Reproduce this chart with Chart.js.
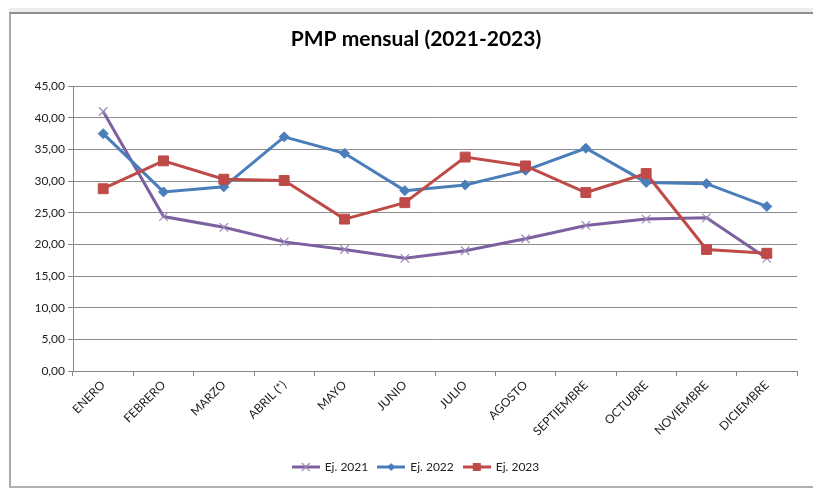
<!DOCTYPE html>
<html>
<head>
<meta charset="utf-8">
<script src="https://cdn.jsdelivr.net/npm/chart.js@4"></script>
<style>
  html, body { margin: 0; background: #fff; overflow: hidden; width: 813px; height: 489px; }
  #strip { position: absolute; left: 9px; top: 8px; width: 820px; height: 4px; background: #ececec; }
  #frame {
    position: absolute; left: 9px; top: 12px; width: 820px; height: 472px;
    border-left: 2px solid #a8a8a8; border-top: 2px solid #8f8f8f; border-bottom: 2px solid #b0b0b0;
  }
  canvas { display: block; }
</style>
</head>
<body>
<div id="strip"></div>
<div id="frame"><canvas id="pmpChart" width="802" height="472"></canvas></div>
<script>
// Months on the x axis
const meses = ['ENERO', 'FEBRERO', 'MARZO', 'ABRIL (*)', 'MAYO', 'JUNIO', 'JULIO',
  'AGOSTO', 'SEPTIEMBRE', 'OCTUBRE', 'NOVIEMBRE', 'DICIEMBRE'];

// PMP values per year (days)
const ej2021 = [41.0, 24.4, 22.7, 20.4, 19.2, 17.8, 19.0, 20.9, 23.0, 24.0, 24.2, 17.8];
const ej2022 = [37.5, 28.3, 29.1, 37.0, 34.4, 28.5, 29.4, 31.7, 35.2, 29.8, 29.6, 26.0];
const ej2023 = [28.8, 33.2, 30.3, 30.1, 24.0, 26.6, 33.8, 32.4, 28.2, 31.2, 19.2, 18.6];

const yTicks = { min: 0, max: 45, step: 5 };

const FONT = 'Lato, "Liberation Sans", sans-serif';
const purple = '#7d60a0';
const blue = '#4a7ebb';
const red = '#be4b48';

// legend swatch: short line with the series marker on it
function legendIcon(color, marker) {
  const c = document.createElement('canvas');
  c.width = 28; c.height = 12;
  const g = c.getContext('2d');
  g.strokeStyle = color;
  g.lineWidth = 3;
  g.beginPath(); g.moveTo(0, 6); g.lineTo(28, 6); g.stroke();
  g.fillStyle = color;
  if (marker === 'cross') {
    g.strokeStyle = '#9c88ba';
    g.lineWidth = 1.2;
    g.beginPath();
    g.moveTo(10, 2); g.lineTo(18, 10);
    g.moveTo(18, 2); g.lineTo(10, 10);
    g.stroke();
  } else if (marker === 'diamond') {
    g.beginPath();
    g.moveTo(14, 2); g.lineTo(18, 6); g.lineTo(14, 10); g.lineTo(10, 6);
    g.closePath(); g.fill();
  } else {
    g.fillRect(10, 2, 8, 8);
  }
  return c;
}

const ctx = document.getElementById('pmpChart').getContext('2d');

new Chart(ctx, {
  type: 'line',
  data: {
    labels: meses,
    datasets: [{
      label: 'Ej. 2021',
      data: ej2021,
      borderColor: purple,
      backgroundColor: purple,
      borderWidth: 3,
      pointStyle: 'crossRot',
      pointRadius: 6,
      pointBorderWidth: 1.2,
      pointBorderColor: '#9c88ba',
      legendIcon: legendIcon(purple, 'cross'),
      order: 3
    }, {
      label: 'Ej. 2022',
      data: ej2022,
      borderColor: blue,
      backgroundColor: blue,
      borderWidth: 3,
      pointStyle: 'rectRot',
      pointRadius: 5,
      pointBorderWidth: 1,
      legendIcon: legendIcon(blue, 'diamond'),
      order: 2
    }, {
      label: 'Ej. 2023',
      data: ej2023,
      borderColor: red,
      backgroundColor: red,
      borderWidth: 3,
      pointStyle: 'rect',
      pointRadius: 7,
      pointBorderWidth: 1,
      legendIcon: legendIcon(red, 'square'),
      order: 1
    }]
  },
  options: {
    responsive: false,
    animation: false,
    events: [],
    layout: { padding: { left: 24, right: 16, top: 0, bottom: 3 } },
    elements: { line: { tension: 0 } },
    plugins: {
      title: {
        display: true,
        text: 'PMP mensual (2021-2023)',
        color: '#000',
        font: { family: FONT, size: 21, weight: 'bold', lineHeight: 1.2 },
        padding: { top: 13, bottom: 34 }
      },
      legend: {
        position: 'bottom',
        labels: {
          color: '#222',
          font: { family: FONT, size: 12 },
          usePointStyle: true,
          pointStyleWidth: 26,
          padding: 10,
          sort: (a, b) => a.datasetIndex - b.datasetIndex,
          generateLabels: (chart) => chart.data.datasets.map((ds, i) => ({
            text: ds.label,
            pointStyle: ds.legendIcon,
            fillStyle: ds.borderColor,
            strokeStyle: ds.borderColor,
            lineWidth: 0,
            fontColor: '#222',
            hidden: false,
            datasetIndex: i
          }))
        }
      },
      tooltip: { enabled: false }
    },
    scales: {
      x: {
        offset: true,
        grid: {
          offset: true,
          drawOnChartArea: false,
          drawTicks: true,
          tickLength: 5,
          tickColor: '#868686'
        },
        border: { color: '#868686', width: 1 },
        ticks: {
          autoSkip: false,
          minRotation: 45,
          maxRotation: 45,
          padding: 2,
          color: '#222',
          font: { family: FONT, size: 12 }
        },
        afterFit: (scale) => { scale.height = 80; }
      },
      y: {
        min: yTicks.min,
        max: yTicks.max,
        grid: {
          color: '#8c8c8c',
          tickColor: '#868686',
          tickLength: 5,
          drawTicks: true
        },
        border: { color: '#868686', width: 1 },
        ticks: {
          stepSize: yTicks.step,
          padding: 3,
          color: '#222',
          font: { family: FONT, size: 12 },
          callback: (v) => v.toFixed(2).replace('.', ',')
        },
        afterFit: (scale) => { scale.width = 38; }
      }
    }
  }
});
</script>
</body>
</html>
